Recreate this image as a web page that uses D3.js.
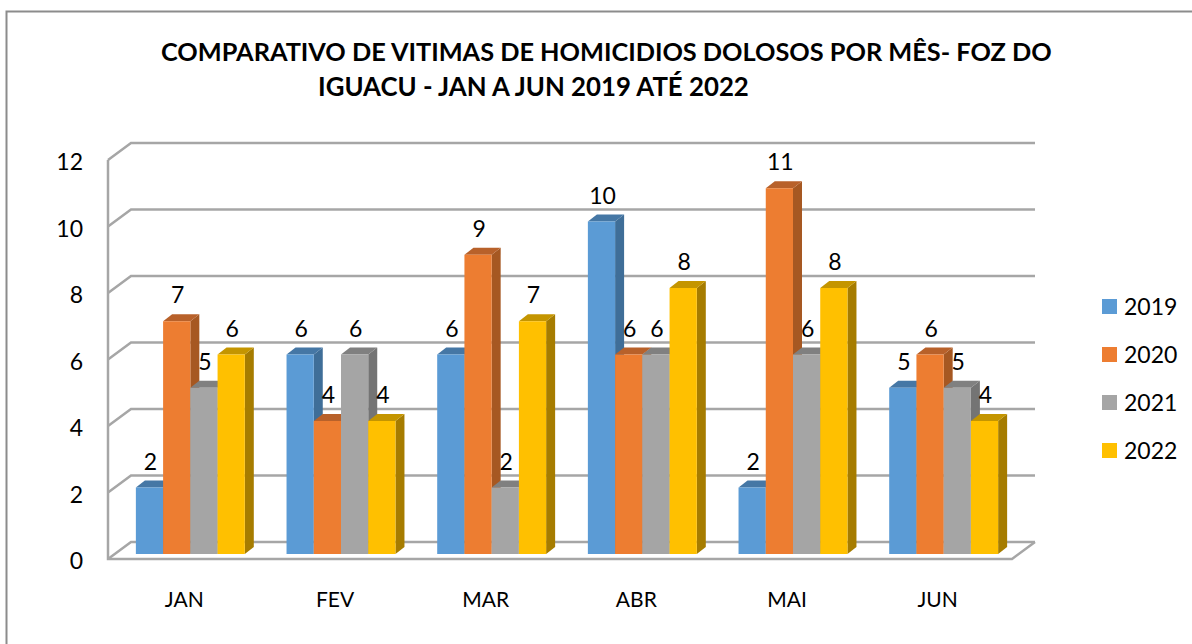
<!DOCTYPE html>
<html>
<head>
<meta charset="utf-8">
<script src="https://cdn.jsdelivr.net/npm/d3@7"></script>
<style>
  body { margin: 0; background: #fff; }
  text { font-family: Lato, "Open Sans", sans-serif; fill: #000; }
</style>
</head>
<body>
<div id="chart"></div>
<script>
const months = ["JAN", "FEV", "MAR", "ABR", "MAI", "JUN"];
const years = ["2019", "2020", "2021", "2022"];
const values2019 = [2, 6, 6, 10, 2, 5];
const values2020 = [7, 4, 9, 6, 11, 6];
const values2021 = [5, 6, 2, 6, 6, 5];
const values2022 = [6, 4, 7, 8, 8, 4];
const yTicks = [0, 2, 4, 6, 8, 10, 12];
const titleLines = ["COMPARATIVO DE VITIMAS DE HOMICIDIOS DOLOSOS POR MÊS- FOZ DO", "IGUACU - JAN A JUN 2019 ATÉ 2022"];

const seriesValues = [values2019, values2020, values2021, values2022];
const front = ["#5b9bd5", "#ed7d31", "#a5a5a5", "#ffc000"];
const side = ["#3f6e98", "#a65822", "#747474", "#a67c00"];
const topFace = ["#4577a5", "#b8612a", "#808080", "#c49500"];
const gridColor = "#a6a6a6";

const width = 1192, height = 644;
const svg = d3.select("#chart").append("svg")
    .attr("width", width)
    .attr("height", height)
    .style("display", "block");

// fake 3d: back wall is the front wall moved by this much
const wallDx = 23, wallDy = -17;
const barDx = 9, barDy = -7;

const x = d3.scaleBand().domain(months).range([108, 1012]).paddingInner(0.277).paddingOuter(0.1385);
const xSeries = d3.scaleBand().domain(years).range([0, x.bandwidth()]);
const xCenter = d3.scaleBand().domain(months).range([108, 1012]);
const y = d3.scaleLinear().domain([0, 12]).range([559, 160]);
const barBase = 554;
const barOffset = 7;

// frame: only top and left edges show, the rest is cropped away
svg.append("path")
    .attr("d", "M6.5,644V11.5H1192")
    .attr("fill", "none")
    .attr("stroke", "#8c8c8c")
    .attr("stroke-width", 2);

// title
svg.selectAll("text.title")
    .data(titleLines)
    .enter()
    .append("text")
    .attr("class", "title")
    .attr("x", (d, i) => i === 0 ? 161 : 318)
    .attr("y", (d, i) => i === 0 ? 61 : 96)
    .attr("font-size", (d, i) => i === 0 ? 25.3 : 25.8)
    .attr("font-weight", 700)
    .text(d => d);

// walls and floor
const wall = svg.append("g")
    .attr("fill", "none")
    .attr("stroke", gridColor)
    .attr("stroke-width", 2.5);

wall.selectAll("path.grid")
    .data(yTicks)
    .enter()
    .append("path")
    .attr("class", "grid")
    .attr("d", d => {
      const p = d3.path();
      p.moveTo(108, y(d));
      p.lineTo(108 + wallDx, y(d) + wallDy);
      p.lineTo(1012 + wallDx, y(d) + wallDy);
      return p.toString();
    });

wall.append("path")
    .attr("d", () => {
      const p = d3.path();
      p.moveTo(108, y(12));
      p.lineTo(108, y(0));
      p.lineTo(1012, y(0));
      p.lineTo(1012 + wallDx, y(0) + wallDy);
      return p.toString();
    });

// bars
const barRows = months.flatMap((m, i) => years.map((yr, s) => ({month: m, year: yr, s: s, value: seriesValues[s][i]})));
const barTop = d => barBase - (y(0) - y(d.value));
const barLeft = d => x(d.month) + barOffset + xSeries(d.year);

const bars = svg.selectAll("g.bar")
    .data(barRows)
    .enter()
    .append("g")
    .attr("class", "bar");

bars.append("path")
    .attr("fill", d => side[d.s])
    .attr("d", d => {
      const r = barLeft(d) + xSeries.bandwidth();
      return `M${r},${barBase}L${r + barDx},${barBase + barDy}L${r + barDx},${barTop(d) + barDy}L${r},${barTop(d)}Z`;
    });

bars.append("path")
    .attr("fill", d => topFace[d.s])
    .attr("d", d => {
      const l = barLeft(d), r = l + xSeries.bandwidth(), t = barTop(d);
      return `M${l},${t}L${l + barDx},${t + barDy}L${r + barDx},${t + barDy}L${r},${t}Z`;
    });

bars.append("rect")
    .attr("fill", d => front[d.s])
    .attr("x", barLeft)
    .attr("y", barTop)
    .attr("width", xSeries.bandwidth())
    .attr("height", d => barBase - barTop(d));

// value labels
svg.selectAll("text.value")
    .data(barRows)
    .enter()
    .append("text")
    .attr("class", "value")
    .attr("x", d => barLeft(d) + xSeries.bandwidth() / 2 + 1)
    .attr("y", d => barTop(d) - 18)
    .attr("text-anchor", "middle")
    .attr("font-size", 23)
    .text(d => d.value);

// y tick labels
svg.selectAll("text.ytick")
    .data(yTicks)
    .enter()
    .append("text")
    .attr("class", "ytick")
    .attr("x", 83)
    .attr("y", d => y(d) + 10)
    .attr("text-anchor", "end")
    .attr("font-size", 23)
    .text(d => d);

// month labels
svg.selectAll("text.month")
    .data(months)
    .enter()
    .append("text")
    .attr("class", "month")
    .attr("x", d => xCenter(d) + xCenter.bandwidth() / 2 + 1)
    .attr("y", 607)
    .attr("text-anchor", "middle")
    .attr("font-size", 21)
    .text(d => d);

// legend
const legend = svg.selectAll("g.legend")
    .data(years)
    .enter()
    .append("g")
    .attr("class", "legend")
    .attr("transform", (d, i) => `translate(1102,${299 + i * 48})`);

legend.append("rect")
    .attr("width", 15)
    .attr("height", 15)
    .attr("fill", (d, i) => front[i]);

legend.append("text")
    .attr("x", 22)
    .attr("y", 15.5)
    .attr("font-size", 23)
    .text(d => d);
</script>
</body>
</html>
